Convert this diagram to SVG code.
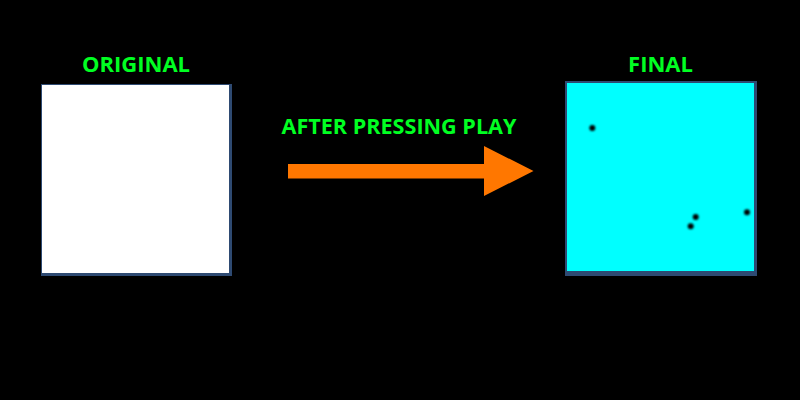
<svg xmlns="http://www.w3.org/2000/svg" width="800" height="400" viewBox="0 0 800 400">
<defs>
<style>
.lbl{font-family:"Open Sans","Noto Sans","DejaVu Sans",sans-serif;font-weight:bold;fill:#00ff22;text-anchor:middle}
.frame{fill:#2e4a72}
</style>
<filter id="blur" x="-1" y="-1" width="3" height="3"><feGaussianBlur stdDeviation="1.2"/></filter>
</defs>
<rect width="800" height="400" fill="#000"/>
<g id="original">
<rect class="frame" x="41" y="84" width="191" height="192"/>
<rect x="42" y="85" width="187" height="188" fill="#fff"/>
<text class="lbl" x="136" y="72" font-size="22">ORIGINAL</text>
</g>
<g id="final">
<rect class="frame" x="565" y="81" width="192" height="195"/>
<rect x="567" y="83" width="187" height="188" fill="#00ffff"/>
<g fill="#000" filter="url(#blur)">
<circle cx="592.3" cy="128" r="3"/>
<circle cx="695.7" cy="217" r="3"/>
<circle cx="690.7" cy="226.3" r="3"/>
<circle cx="747" cy="212.3" r="3"/>
</g>
<text class="lbl" x="660.5" y="72" font-size="22">FINAL</text>
</g>
<g id="connectors">
<polygon points="288,164 484,164 484,146 533.5,171 484,196 484,178.5 288,178.5" fill="#ff7700"/>
<text class="lbl" x="399" y="134" font-size="21.6">AFTER PRESSING PLAY</text>
</g>
</svg>
